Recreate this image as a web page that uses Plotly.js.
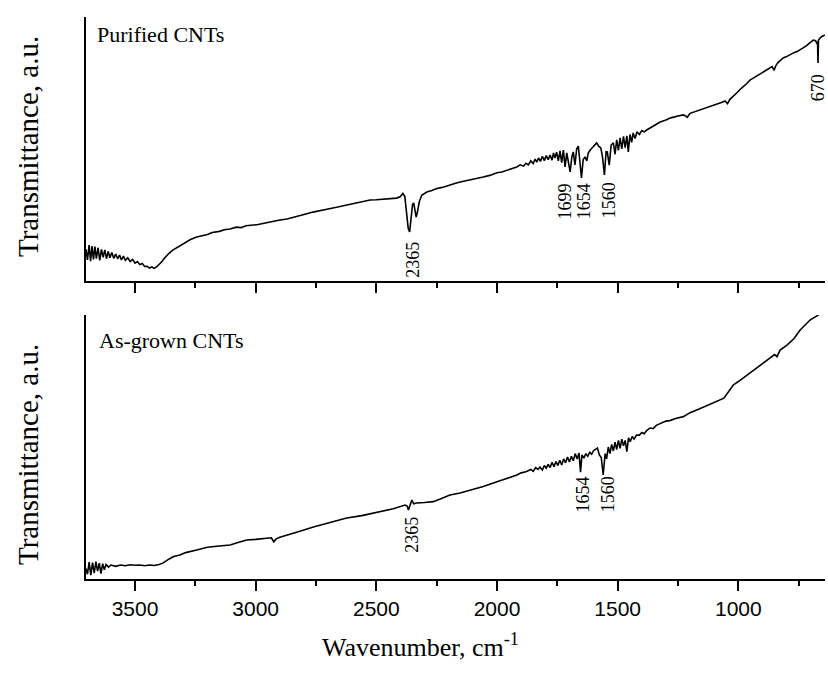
<!DOCTYPE html>
<html>
<head>
<meta charset="utf-8">
<script src="https://cdn.plot.ly/plotly-3.0.1.min.js"></script>
<style>
html,body{margin:0;padding:0;background:#fff;}
#chart{width:828px;height:677px;}
</style>
</head>
<body>
<div id="chart"></div>
<script>
// ---------- DATA ----------
// Purified CNTs (top panel)
var topWavenumber = [
3703,3697,3690,3684,3678,3672,3666,3660,3653,3646,3639,3632,3625,3618,3611,3604,3596,3588,3580,3572,
3564,3556,3548,3540,3530,3520,3510,3500,3490,3480,3470,3460,3450,3440,3430,3420,3410,3400,3390,3380,
3370,3360,3345,3327,3310,3290,3270,3244,3220,3200,3180,3150,3130,3106,3080,3060,3040,3011,2990,2960,
2930,2899,2870,2830,2800,2762,2730,2700,2660,2623,2590,2560,2526,2500,2470,2440,2416,2400,2390,2382,
2376,2368,2362,2357,2350,2345,2340,2335,2330,2322,2312,2300,2291,2270,2250,2220,2200,2175,2153,2125,
2100,2080,2057,2030,2000,1980,1960,1940,1918,1904,1890,1880,1870,1860,1850,1842,1835,1828,1820,1812,
1804,1796,1788,1780,1772,1766,1760,1753,1746,1739,1732,1725,1718,1711,1704,1697,1690,1684,1677,1670,
1663,1656,1650,1643,1635,1628,1622,1612,1600,1587,1578,1570,1563,1555,1548,1543,1535,1527,1518,1511,
1504,1497,1490,1483,1476,1469,1462,1456,1449,1442,1436,1428,1420,1410,1400,1390,1380,1366,1350,1324,
1300,1280,1250,1229,1220,1212,1200,1180,1158,1140,1120,1100,1090,1070,1055,1045,1035,1020,1007,990,
980,965,952,935,920,900,882,870,860,852,845,835,825,814,800,790,770,755,744,730,
720,710,700,690,680,676,672,670,668,660,650,641
];
var topTransmittance = [
12.0,8.0,13.6,7.5,13.2,8.2,13.0,8.5,12.6,7.8,12.0,9.0,11.8,8.5,11.2,8.8,10.8,8.6,10.2,8.4,
9.8,8.0,9.4,7.8,8.8,7.4,8.2,6.8,7.4,6.2,6.6,5.5,5.6,4.9,5.3,4.8,5.4,6.2,7.2,8.4,
9.5,10.4,11.6,12.6,13.8,14.8,15.7,16.7,17.3,17.6,18.4,18.8,19.4,19.7,20.4,20.2,20.9,21.2,21.4,22.0,
22.6,23.1,23.5,24.6,25.2,26.1,26.6,27.3,28.0,28.8,29.4,30.0,30.7,30.8,31.0,31.3,31.4,32.0,33.2,32.0,
26.0,20.0,18.6,22.5,29.0,29.5,26.5,24.2,26.0,30.0,32.5,33.2,33.7,34.3,35.0,35.6,36.3,36.9,37.5,38.0,
38.5,39.0,39.4,40.0,41.0,41.3,42.0,42.6,43.2,44.0,43.5,44.6,44.0,45.5,44.5,46.2,45.0,46.6,45.3,47.2,
45.6,47.5,46.0,47.7,45.8,48.5,46.6,48.8,45.5,49.3,44.8,49.6,43.2,48.5,44.5,41.3,47.0,48.9,44.0,50.0,
51.1,45.0,39.0,46.0,47.0,45.5,48.5,49.8,51.0,52.3,51.0,50.4,47.0,40.2,49.0,48.9,43.9,51.5,52.3,48.0,
53.5,49.5,54.2,50.0,54.8,50.5,55.0,48.9,55.5,52.5,56.1,54.0,56.5,55.5,57.0,56.5,57.2,58.0,58.8,60.2,
61.0,61.8,62.5,62.9,62.6,62.0,63.5,64.1,64.8,65.3,66.0,66.6,67.0,67.6,68.2,67.2,68.8,70.0,71.2,72.8,
73.5,74.8,76.1,77.0,78.0,78.8,79.9,80.6,81.2,79.8,81.5,82.8,83.8,84.5,85.0,85.6,86.5,87.0,87.5,88.4,
89.0,89.8,90.5,91.2,91.0,90.2,90.6,82.6,91.2,92.2,92.8,93.2
];

// As-grown CNTs (bottom panel)
var bottomWavenumber = [
3703,3697,3690,3683,3676,3669,3662,3655,3648,3641,3634,3627,3620,3610,3600,3580,3560,3540,3520,3500,
3480,3460,3440,3420,3400,3383,3360,3340,3314,3290,3244,3200,3150,3106,3070,3037,3000,2954,2935,2925,
2915,2900,2871,2820,2761,2700,2623,2560,2485,2430,2381,2372,2367,2360,2353,2345,2333,2300,2264,2230,
2195,2153,2100,2057,2000,1960,1918,1900,1880,1860,1850,1840,1830,1822,1812,1804,1796,1788,1780,1772,
1764,1756,1748,1740,1732,1724,1716,1708,1700,1692,1684,1676,1668,1660,1654,1648,1640,1632,1624,1616,
1608,1600,1592,1584,1576,1568,1560,1552,1546,1539,1532,1525,1518,1511,1504,1497,1490,1483,1476,1469,
1462,1455,1448,1440,1432,1422,1410,1400,1390,1380,1366,1353,1340,1320,1300,1284,1260,1228,1200,1160,
1120,1090,1060,1040,1021,1000,980,952,920,882,850,840,827,800,770,744,720,703,690,668
];
var bottomTransmittance = [
4.0,1.8,6.4,1.5,6.2,2.2,6.6,3.0,6.0,2.0,5.8,3.5,5.5,4.5,5.3,4.8,5.3,5.0,5.4,5.2,
5.3,5.0,5.3,5.1,5.5,6.1,7.5,8.5,9.1,10.0,11.0,12.0,12.5,12.9,13.9,14.8,15.0,15.5,15.6,14.1,
15.2,15.8,16.7,18.0,19.7,21.2,23.1,24.0,25.4,26.6,28.0,27.6,26.1,28.5,29.9,28.5,28.8,29.0,29.3,30.5,
31.8,32.6,33.8,35.0,36.8,38.0,39.4,40.2,40.6,41.5,40.8,42.2,41.5,42.4,41.3,43.0,42.0,43.4,42.2,44.2,
42.5,44.5,43.0,45.0,43.2,45.5,44.0,46.2,44.3,46.5,44.8,47.5,45.5,47.7,40.5,47.0,45.8,47.5,46.5,48.0,
47.3,48.6,49.2,49.6,47.0,46.0,39.4,47.5,45.5,50.0,47.5,51.0,48.5,51.8,49.0,52.5,49.5,53.0,50.5,52.5,
48.2,53.5,52.0,54.0,53.0,54.5,54.5,55.5,55.0,56.2,57.2,57.0,58.2,59.0,59.8,60.0,60.8,61.5,63.0,64.5,
66.0,67.2,68.5,71.0,73.5,74.8,76.2,78.0,80.2,83.0,85.0,84.2,86.7,88.5,91.0,94.3,96.5,98.1,98.8,100.0
];

// Peak labels
var topPeaks = [2365, 1699, 1654, 1560, 670];
var topPeakLabelY = [8, 30, 30, 30.7, 73];
var bottomPeaks = [2365, 1654, 1560];
var bottomPeakLabelY = [16.7, 31.8, 32.2];

var panelLabels = ["Purified CNTs", "As-grown CNTs"];
var yTitle = "Transmittance, a.u.";
var xTitle = "Wavenumber, cm<sup>-1</sup>";
var xTickVals = [3500, 3000, 2500, 2000, 1500, 1000];
var xTickText = ["3500", "3000", "2500", "2000", "1500", "1000"];

// ---------- LAYOUT ----------
var W = 828, H = 677;
function px(x){ return x / W; }
function py(y){ return (H - y) / H; }

var serif = "Liberation Serif, Times New Roman, serif";
var sans = "Liberation Sans, Arial, sans-serif";

var traces = [
  {x: topWavenumber, y: topTransmittance, xaxis: 'x', yaxis: 'y', type: 'scatter', mode: 'lines',
   line: {color: '#000', width: 1.6}, hoverinfo: 'skip'},
  {x: bottomWavenumber, y: bottomTransmittance, xaxis: 'x2', yaxis: 'y2', type: 'scatter', mode: 'lines',
   line: {color: '#000', width: 1.6}, hoverinfo: 'skip'}
];

var xRange = [3703, 641];
function xAxis(labels, anchor){
  return {
    domain: [px(86), px(825)],
    range: xRange,
    anchor: anchor,
    showline: true, linecolor: '#000', linewidth: 2,
    showgrid: false, zeroline: false,
    ticks: 'outside', ticklen: 10, tickwidth: 2, tickcolor: '#000',
    tickmode: 'array', tickvals: xTickVals, ticktext: xTickText,
    showticklabels: labels,
    tickfont: {family: sans, size: 21, color: '#000'},
    minor: {dtick: 250, tick0: 0, ticks: 'outside', ticklen: 5, tickwidth: 2, tickcolor: '#000', showgrid: false}
  };
}
function yAxis(top, bottom, anchor){
  return {
    domain: [py(bottom), py(top)],
    range: [0, 100],
    anchor: anchor,
    showline: true, linecolor: '#000', linewidth: 2,
    showgrid: false, zeroline: false,
    ticks: '', showticklabels: false
  };
}

var annotations = [];
var shiftsTop = [4, -5, 3, 6, 0];
topPeaks.forEach(function(p, i){
  annotations.push({x: p, y: topPeakLabelY[i], xref: 'x', yref: 'y', text: String(p), showarrow: false,
    textangle: -90, xshift: shiftsTop[i], font: {family: serif, size: 18, color: '#000'}});
});
var shiftsBottom = [3, 3, 5];
bottomPeaks.forEach(function(p, i){
  annotations.push({x: p, y: bottomPeakLabelY[i], xref: 'x2', yref: 'y2', text: String(p), showarrow: false,
    textangle: -90, xshift: shiftsBottom[i], font: {family: serif, size: 18, color: '#000'}});
});
annotations.push({x: px(95), y: py(35), xref: 'paper', yref: 'paper', xanchor: 'left', yanchor: 'middle',
  text: panelLabels[0], showarrow: false, font: {family: serif, size: 22, color: '#000'}});
annotations.push({x: px(97), y: py(340), xref: 'paper', yref: 'paper', xanchor: 'left', yanchor: 'middle',
  text: panelLabels[1], showarrow: false, font: {family: serif, size: 22, color: '#000'}});
annotations.push({x: px(28), y: py(147), xref: 'paper', yref: 'paper', xanchor: 'center', yanchor: 'middle',
  text: yTitle, textangle: -90, showarrow: false, font: {family: serif, size: 29, color: '#000'}});
annotations.push({x: px(28), y: py(455), xref: 'paper', yref: 'paper', xanchor: 'center', yanchor: 'middle',
  text: yTitle, textangle: -90, showarrow: false, font: {family: serif, size: 29, color: '#000'}});
annotations.push({x: px(420), y: py(645), xref: 'paper', yref: 'paper', xanchor: 'center', yanchor: 'middle',
  text: xTitle, showarrow: false, font: {family: serif, size: 26, color: '#000'}});

var layout = {
  width: W, height: H,
  margin: {l: 0, r: 0, t: 0, b: 0, pad: 0},
  paper_bgcolor: '#fff', plot_bgcolor: '#fff',
  showlegend: false,
  xaxis: xAxis(false, 'y'),
  yaxis: yAxis(17, 281, 'x'),
  xaxis2: xAxis(true, 'y2'),
  yaxis2: yAxis(315, 579, 'x2'),
  annotations: annotations
};

Plotly.newPlot('chart', traces, layout, {displayModeBar: false, staticPlot: true});
</script>
</body>
</html>
